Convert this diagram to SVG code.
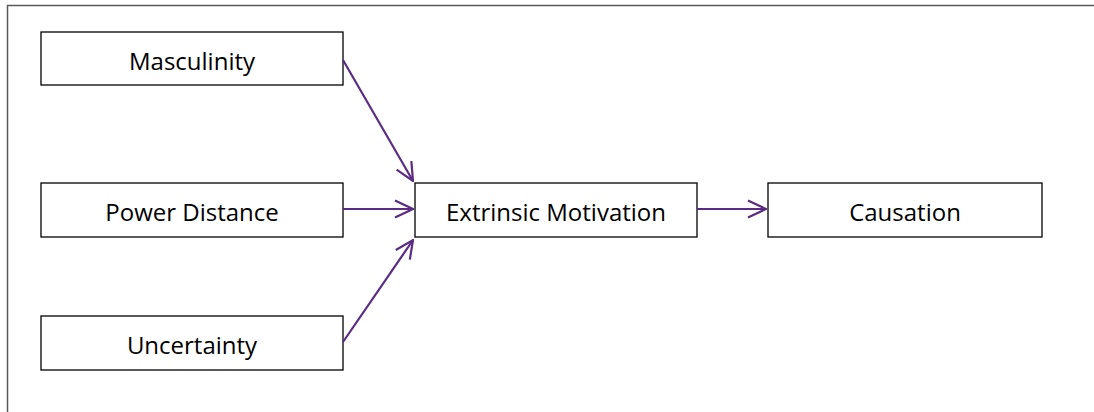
<svg xmlns="http://www.w3.org/2000/svg" width="1094" height="412" viewBox="0 0 1094 412">
<style>
.box{fill:#fff;stroke:#000;stroke-width:1.3}
.lbl{font-family:"Open Sans","Liberation Sans",sans-serif;font-size:24px;fill:#000;text-anchor:middle}
.con{stroke:#5B2C83;stroke-width:2.2;fill:none}
</style>
<defs>
<marker id="ah" viewBox="0 0 20 20" refX="19" refY="10" markerWidth="20" markerHeight="20" markerUnits="userSpaceOnUse" orient="auto">
<path d="M1,1.5 L19,10 L1,18.5" fill="none" stroke="#5B2C83" stroke-width="2.2"/>
</marker>
</defs>
<rect width="1094" height="412" fill="#fff"/>
<path d="M7.5,412 L7.5,5.5 L1094,5.5" fill="none" stroke="#595959" stroke-width="1.5"/>
<g id="masculinity"><rect class="box" x="41" y="32" width="302" height="53"/><text class="lbl" x="192" y="70">Masculinity</text></g>
<g id="power-distance"><rect class="box" x="41" y="183" width="302" height="54"/><text class="lbl" x="192" y="221">Power Distance</text></g>
<g id="uncertainty"><rect class="box" x="41" y="316" width="302" height="54"/><text class="lbl" x="192" y="354">Uncertainty</text></g>
<g id="extrinsic-motivation"><rect class="box" x="415" y="183" width="282" height="54"/><text class="lbl" x="556" y="221">Extrinsic Motivation</text></g>
<g id="causation"><rect class="box" x="768" y="183" width="274" height="54"/><text class="lbl" x="905" y="221">Causation</text></g>
<g id="connectors">
<line class="con" x1="343" y1="60" x2="413" y2="181" marker-end="url(#ah)"/>
<line class="con" x1="343" y1="209" x2="413" y2="209" marker-end="url(#ah)"/>
<line class="con" x1="343" y1="342" x2="413" y2="240" marker-end="url(#ah)"/>
<line class="con" x1="697" y1="209" x2="766" y2="209" marker-end="url(#ah)"/>
</g>
</svg>
